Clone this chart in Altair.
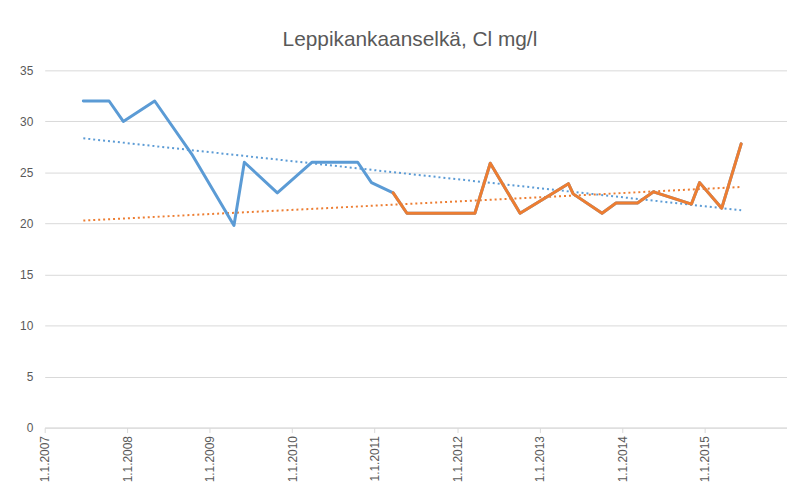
import altair as alt
import pandas as pd

dates = [
    "2007-06-21", "2007-10-13", "2007-12-15", "2008-05-02", "2008-10-13",
    "2009-04-18", "2009-06-03", "2009-10-27", "2010-03-30", "2010-10-18",
    "2010-12-18", "2011-03-24", "2011-05-24", "2012-03-20", "2012-05-27",
    "2012-10-06", "2013-05-08", "2013-05-29", "2013-10-04", "2013-12-05",
    "2014-03-10", "2014-05-20", "2014-11-04", "2014-12-10", "2015-03-18",
    "2015-06-12",
]
values = [
    32, 32, 30, 32, 26.8,
    19.8, 26, 23, 26, 26,
    24, 23, 21, 21, 25.9,
    21, 23.9, 22.9, 21, 22,
    22, 23.1, 21.9, 24, 21.5,
    27.8,
]
orange_start = 11  # second series starts here (2011-03-24)

series_names = ["koko jakso", "2011-"]
series_colors = ["#5B9BD5", "#ED7D31"]
year_ticks = list(range(2007, 2017))

rows = []
for i, (d, v) in enumerate(zip(dates, values)):
    rows.append({"date": d, "value": v, "series": series_names[0]})
    if i >= orange_start:
        rows.append({"date": d, "value": v, "series": series_names[1]})
df = pd.DataFrame(rows)

t0 = pd.Timestamp(dates[0]).timestamp() * 1000
t1 = pd.Timestamp(dates[-1]).timestamp() * 1000

x_enc = alt.X(
    "date:T",
    title=None,
    scale=alt.Scale(
        type="utc",
        domain=[alt.DateTime(year=2007, month=1, date=1, utc=True),
                alt.DateTime(year=2016, month=1, date=1, utc=True)],
    ),
    axis=alt.Axis(
        values=[alt.DateTime(year=y, month=1, date=1, utc=True) for y in year_ticks],
        labelExpr="utcyear(datum.value) < 2016 ? '1.1.' + utcyear(datum.value) : ''",
        labelAngle=-90,
        labelPadding=3,
        grid=False,
        domainColor="#D9D9D9",
        tickColor="#D9D9D9",
        tickSize=5,
    ),
)
y_enc = alt.Y(
    "value:Q",
    title=None,
    scale=alt.Scale(domain=[0, 35]),
    axis=alt.Axis(
        values=[0, 5, 10, 15, 20, 25, 30, 35],
        domain=False,
        ticks=False,
        labelPadding=12,
        gridColor="#D9D9D9",
    ),
)
color_enc = alt.Color(
    "series:N",
    scale=alt.Scale(domain=series_names, range=series_colors),
    legend=None,
)

base = alt.Chart(df)

trend = base.transform_regression(
    "date", "value", groupby=["series"], extent=[t0, t1]
).mark_line(strokeWidth=2, strokeDash=[2, 3]).encode(x=x_enc, y=y_enc, color=color_enc)

lines = base.mark_line(strokeWidth=3, strokeJoin="round", strokeCap="round").encode(
    x=x_enc, y=y_enc, color=color_enc, order=alt.Order("date:T")
)

chart = alt.layer(trend, lines).properties(
    width=748,
    height=360,
    autosize=alt.AutoSizeParams(type="none"),
    padding={"left": 37, "top": 61, "right": 0, "bottom": 57},
    title=alt.TitleParams(
        "Leppikankaanselkä, Cl mg/l",
        font="Liberation Sans",
        fontSize=21,
        fontWeight="normal",
        color="#595959",
        anchor="middle",
        baseline="alphabetic",
        offset=22,
        dy=24,
        dx=-6,
    ),
).configure_axis(
    labelFont="Liberation Sans",
    labelFontSize=12,
    labelColor="#595959",
).configure_view(stroke=None)

chart.save("out.html", embed_options={"renderer": "svg", "actions": False})
